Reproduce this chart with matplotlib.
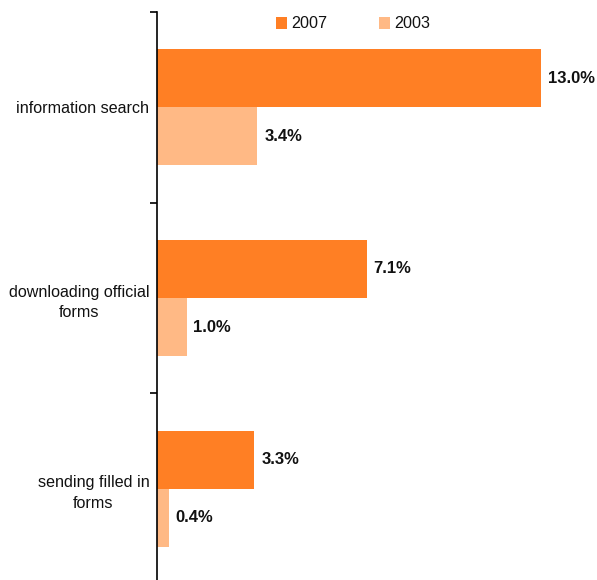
import matplotlib.pyplot as plt
import numpy as np

plt.rcParams["font.family"] = ["Liberation Sans", "DejaVu Sans"]

categories = ["information search", "downloading official\nforms", "sending filled in\nforms"]
values_2007 = [13.0, 7.1, 3.3]
values_2003 = [3.4, 1.0, 0.4]
series_labels = ["2007", "2003"]

colour_2007 = "#FF7F24"
colour_2003 = "#FFB985"

W, H = 597, 580
fig = plt.figure(figsize=(W / 100, H / 100), dpi=100)
left, top, bottom = 157 / W, 12 / H, -4 / H
ax = fig.add_axes([left, bottom, (575 - 157) / W, 1 - top - bottom])

y = np.arange(len(categories))
h = 0.305
b1 = ax.barh(y - h / 2, values_2007, height=h, color=colour_2007, label=series_labels[0])
b2 = ax.barh(y + h / 2, values_2003, height=h, color=colour_2003, label=series_labels[1])

for bars, vals in ((b1, values_2007), (b2, values_2003)):
    for bar, v in zip(bars, vals):
        ax.annotate(f"{v:.1f}%", (bar.get_width(), bar.get_y() + bar.get_height() / 2),
                    xytext=(5, 0), textcoords="offset points", va="center", ha="left",
                    fontsize=12, fontweight="bold", color="#111111")

ax.set_ylim(len(categories) - 0.5, -0.5)
ax.set_xlim(0, 14.15)
ax.set_yticks(np.arange(len(categories) + 1) - 0.5)
ax.set_yticklabels([])
ax.set_yticks(y, minor=True)
ax.set_yticklabels(categories, minor=True, fontsize=11.6, multialignment="center",
                   color="#111111", linespacing=1.45)
ax.tick_params(axis="y", which="major", length=5, width=1.2, direction="out")
ax.tick_params(axis="y", which="minor", length=0, pad=5.5)
ax.set_xticks([])
for s in ("top", "right", "bottom"):
    ax.spines[s].set_visible(False)
ax.spines["left"].set_linewidth(1.2)

fig.legend(loc="center", bbox_to_anchor=(353 / W, 1 - 24 / H), ncol=2, frameon=False,
           fontsize=11.6, handlelength=0.7, handleheight=0.7, handletextpad=0.25,
           columnspacing=3.2, labelcolor="#111111")

fig.savefig("out.png", dpi=100)
